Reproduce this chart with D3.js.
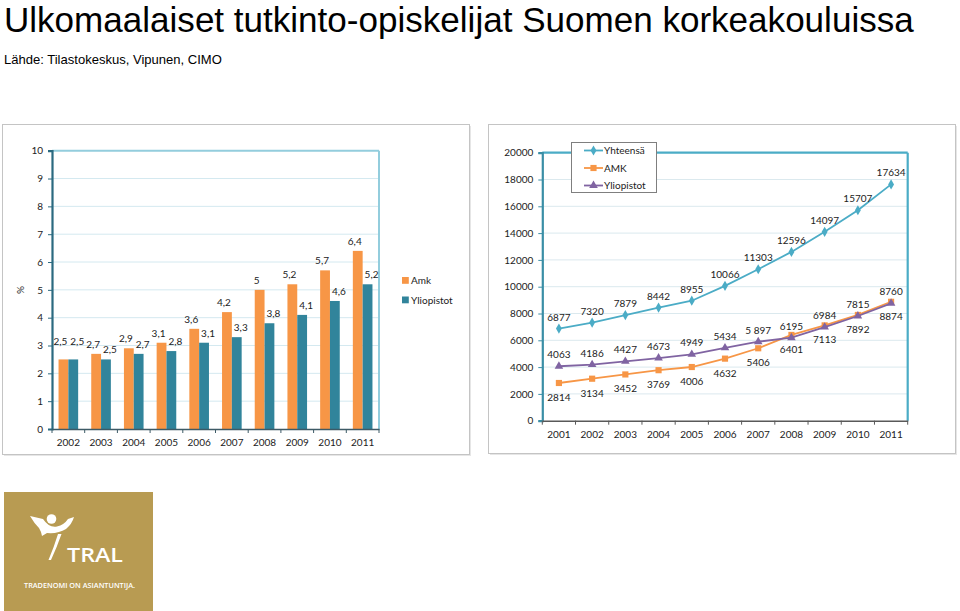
<!DOCTYPE html>
<html><head><meta charset="utf-8">
<script src="https://cdn.jsdelivr.net/npm/d3@7"></script>
<style>
html,body{margin:0;padding:0;background:#fff;}
svg{display:block;}
</style></head>
<body>
<svg id="c" width="960" height="611"></svg>
<script>
// ---- data ----
const titleText = "Ulkomaalaiset tutkinto-opiskelijat Suomen korkeakouluissa";
const sourceText = "Lähde: Tilastokeskus, Vipunen, CIMO";

const barYears = ["2002","2003","2004","2005","2006","2007","2008","2009","2010","2011"];
const barSeries = ["Amk","Yliopistot"];
const amkPct = [2.5,2.7,2.9,3.1,3.6,4.2,5,5.2,5.7,6.4];
const yliopPct = [2.5,2.5,2.7,2.8,3.1,3.3,3.8,4.1,4.6,5.2];
const pctTicks = [0,1,2,3,4,5,6,7,8,9,10];

const lineYears = ["2001","2002","2003","2004","2005","2006","2007","2008","2009","2010","2011"];
const lineSeries = ["Yhteensä","AMK","Yliopistot"];
const totalVals = [6877,7320,7879,8442,8955,10066,11303,12596,14097,15707,17634];
const amkVals   = [2814,3134,3452,3769,4006,4632,5406,6401,7113,7892,8874];
const yliopVals = [4063,4186,4427,4673,4949,5434,5897,6195,6984,7815,8760];
const yliopLabels = ["4063","4186","4427","4673","4949","5434","5 897","6195","6984","7815","8760"];
const countTicks = [0,2000,4000,6000,8000,10000,12000,14000,16000,18000,20000];

const logoName = "TRAL";
const logoTag = "TRADENOMI ON ASIANTUNTIJA.";

// ---- drawing ----
const svg = d3.select("#c");
const chartFont = "Lato, 'Open Sans', sans-serif";

// Title
const t = svg.append("text").attr("x",4).attr("y",32)
  .style("font-family","'Liberation Sans', Arial, sans-serif")
  .style("font-size","100px").attr("fill","#000").text(titleText);
let w = t.node().getComputedTextLength();
t.style("font-size",(100*910/w)+"px");
const s = svg.append("text").attr("x",4).attr("y",63.5)
  .style("font-family","'Liberation Sans', Arial, sans-serif")
  .style("font-size","100px").attr("fill","#000").text(sourceText);
w = s.node().getComputedTextLength();
s.style("font-size",(100*218/w)+"px");

// Frames
function frame(x,y,wd,ht){
  svg.append("rect").attr("x",x+2).attr("y",y+2).attr("width",wd).attr("height",ht).attr("fill","#e6e6e6");
  svg.append("rect").attr("x",x+0.5).attr("y",y+0.5).attr("width",wd).attr("height",ht)
    .attr("fill","#fff").attr("stroke","#c4c4c4").attr("stroke-width",1);
}
frame(2,124,467,330);
frame(488,124,467,329);

// ---------- Left: bar chart ----------
{
  const L=52, R=379, T=150.7, B=429;
  const g = svg.append("g").style("font-family",chartFont);
  const x0 = d3.scaleBand().domain(barYears).range([L,R]).paddingInner(0.4).paddingOuter(0.2);
  const x1 = d3.scaleBand().domain(barSeries).range([0,x0.bandwidth()]);
  const y = d3.scaleLinear().domain([0,10]).range([B,T]);
  const color = d3.scaleOrdinal().domain(barSeries).range(["#F79646","#31849B"]);

  // gridlines
  g.append("g").selectAll("line").data(pctTicks.filter(d=>d>0)).join("line")
    .attr("x1",L).attr("x2",R).attr("y1",d=>y(d)).attr("y2",d=>y(d))
    .attr("stroke",d=>d===10?"#93cddd":"#d4e9f0").attr("stroke-width",d=>d===10?2:1);
  g.append("line").attr("x1",R).attr("x2",R).attr("y1",T).attr("y2",B).attr("stroke","#93cddd").attr("stroke-width",2);

  const rows = barYears.map((yr,i)=>({yr, same: amkPct[i]===yliopPct[i],
    vals:[{k:"Amk",v:amkPct[i]},{k:"Yliopistot",v:yliopPct[i]}]}));
  const grp = g.append("g").selectAll("g").data(rows).join("g").attr("transform",d=>`translate(${x0(d.yr)},0)`);
  grp.selectAll("rect").data(d=>d.vals).join("rect")
    .attr("x",d=>x1(d.k)).attr("width",x1.bandwidth()).attr("y",d=>y(d.v)).attr("height",d=>B-y(d.v))
    .attr("fill",d=>color(d.k));
  grp.each(function(row){
    d3.select(this).selectAll("text").data(row.vals).join("text")
      .attr("x",d=>x1(d.k)+x1.bandwidth()/2 + (d.k==="Amk"?-3:4))
      .attr("y",d=>y(d.v)-6-(row.same?8:0))
      .attr("text-anchor","middle").style("font-size","10px").attr("fill","#222")
      .text(d=>String(d.v).replace(".",","));
  });

  // y axis
  const ya = g.append("g").attr("transform",`translate(${L},0)`)
    .call(d3.axisLeft(y).tickValues(pctTicks).tickSize(4).tickFormat(d=>d));
  ya.select(".domain").attr("stroke","#2b6a80").attr("stroke-width",2.2);
  ya.selectAll(".tick line").attr("stroke","#2b6a80");
  ya.selectAll("text").style("font-family",chartFont).style("font-size","10px").attr("fill","#222").attr("x",-9);
  // x axis
  const xa = g.append("g").attr("transform",`translate(0,${B})`)
    .call(d3.axisBottom(x0).tickSize(0).tickPadding(10));
  xa.select(".domain").attr("stroke","#3d5a66").attr("stroke-width",1.5);
  xa.selectAll("text").style("font-family",chartFont).style("font-size","10px").attr("fill","#222");
  const step = x0.step();
  g.append("g").selectAll("line").data(d3.range(0,barYears.length+1)).join("line")
    .attr("x1",d=>L+d*step).attr("x2",d=>L+d*step).attr("y1",B).attr("y2",B+4).attr("stroke","#3d5a66");

  g.append("text").attr("transform","translate(24,290) rotate(-90)").attr("text-anchor","middle")
    .style("font-size","10px").attr("fill","#222").text("%");

  // legend
  const lg = g.append("g").selectAll("g").data(barSeries).join("g")
    .attr("transform",(d,i)=>`translate(402,${277+i*19.5})`);
  lg.append("rect").attr("width",6.8).attr("height",6.8).attr("fill",d=>color(d));
  lg.append("text").attr("x",9).attr("y",7).style("font-size","10px").attr("fill","#222").text(d=>d);
}

// ---------- Right: line chart ----------
{
  const L=542.3, R=907.7, T=152.7, B=420.7;
  const g = svg.append("g").style("font-family",chartFont);
  const x = d3.scaleBand().domain(lineYears).range([L,R]);
  const cx = d=>x(d)+x.bandwidth()/2;
  const y = d3.scaleLinear().domain([0,20000]).range([B,T]);
  const colors = {"Yhteensä":"#4BACC6","AMK":"#F79646","Yliopistot":"#8064A2"};

  g.append("g").selectAll("line").data(countTicks.filter(d=>d>0 && d<20000)).join("line")
    .attr("x1",L).attr("x2",R).attr("y1",d=>y(d)).attr("y2",d=>y(d)).attr("stroke","#dbe9ee").attr("stroke-width",1);
  g.append("line").attr("x1",L).attr("x2",R).attr("y1",T).attr("y2",T).attr("stroke","#4BACC6").attr("stroke-width",2.2);
  g.append("line").attr("x1",R).attr("x2",R).attr("y1",T).attr("y2",B).attr("stroke","#4BACC6").attr("stroke-width",2.2);

  const ya = g.append("g").attr("transform",`translate(${L},0)`)
    .call(d3.axisLeft(y).tickValues(countTicks).tickSize(4).tickFormat(d=>d));
  ya.select(".domain").attr("stroke","#3a8ea6").attr("stroke-width",2.2);
  ya.selectAll(".tick line").attr("stroke","#3a8ea6");
  ya.selectAll("text").style("font-family",chartFont).style("font-size","10px").attr("fill","#222").attr("x",-9);
  const xa = g.append("g").attr("transform",`translate(0,${B})`)
    .call(d3.axisBottom(x).tickSize(0).tickPadding(10));
  xa.select(".domain").attr("stroke","#595959").attr("stroke-width",1.5);
  xa.selectAll("text").style("font-family",chartFont).style("font-size","10px").attr("fill","#222");
  g.append("g").selectAll("line").data(d3.range(0,lineYears.length+1)).join("line")
    .attr("x1",d=>L+d*x.step()).attr("x2",d=>L+d*x.step()).attr("y1",B).attr("y2",B+4).attr("stroke","#595959");

  const series = [
    {name:"Yhteensä", vals:totalVals, labels:totalVals.map(String), dy:-8, sym:d3.symbolDiamond, size:30},
    {name:"AMK", vals:amkVals, labels:amkVals.map(String), dy:18, sym:d3.symbolSquare, size:38},
    {name:"Yliopistot", vals:yliopVals, labels:yliopLabels, dy:-8, sym:d3.symbolTriangle, size:32}
  ];
  const line = d3.line().x((d,i)=>cx(lineYears[i])).y(d=>y(d));
  [series[1],series[2],series[0]].forEach(se=>{
    g.append("path").attr("d",line(se.vals)).attr("fill","none").attr("stroke",colors[se.name]).attr("stroke-width",1.8);
    g.append("g").selectAll("path").data(se.vals).join("path")
      .attr("transform",(d,i)=>`translate(${cx(lineYears[i])},${y(d)})`)
      .attr("d",d3.symbol().type(se.sym).size(se.size)).attr("fill",colors[se.name]);
  });
  series.forEach(se=>{
    g.append("g").selectAll("text").data(se.vals).join("text")
      .attr("x",(d,i)=>cx(lineYears[i])).attr("y",d=>y(d)+se.dy)
      .attr("text-anchor","middle").style("font-size","10px").attr("fill","#222")
      .text((d,i)=>se.labels[i]);
  });

  // legend
  const lgx=571.5, lgy=142.5;
  g.append("rect").attr("x",lgx).attr("y",lgy).attr("width",85).attr("height",50)
    .attr("fill","#fff").attr("stroke","#7f7f7f").attr("stroke-width",1);
  const le = g.append("g").selectAll("g").data(series).join("g")
    .attr("transform",(d,i)=>`translate(584,${150.5+i*17.5})`);
  le.append("line").attr("x1",0).attr("x2",19).attr("stroke",d=>colors[d.name]).attr("stroke-width",1.8);
  le.append("path").attr("transform","translate(9.5,0)").attr("d",d=>d3.symbol().type(d.sym).size(d.size)()).attr("fill",d=>colors[d.name]);
  le.append("text").attr("x",20).attr("y",3.5).style("font-size","10px").attr("fill","#222").text(d=>d.name);
}

// ---------- Logo ----------
{
  const g = svg.append("g");
  g.append("rect").attr("x",4).attr("y",492).attr("width",149).attr("height",119).attr("fill","#B89B52");
  g.append("circle").attr("cx",51.5).attr("cy",519).attr("r",4.8).attr("fill","#fff");
  g.append("path").attr("fill","#fff")
    .attr("d","M30,516 L43,519 Q49,528 57,526.5 Q64,525 68,519 L74,517 Q72,524 66,529 Q58,534 47,533 L42,536 Q41,531 39,528 Q34,523 30,516 Z");
  g.append("path").attr("fill","#fff")
    .attr("d","M58,534 L61.5,534 Q57,547 51,560 L48.5,560 Q54,547 58,534 Z");
  g.append("text").attr("x",67).attr("y",562).attr("fill","#fff")
    .style("font-family","'Open Sans', sans-serif").style("font-weight","600").style("font-size","20px")
    .attr("textLength",56).attr("lengthAdjust","spacingAndGlyphs").text(logoName);
  g.append("text").attr("x",24).attr("y",587.5).attr("fill","#fff")
    .style("font-family","'Open Sans', sans-serif").style("font-weight","600").style("font-size","7.4px")
    .attr("textLength",111).attr("lengthAdjust","spacingAndGlyphs").text(logoTag);
}
</script>
</body></html>
